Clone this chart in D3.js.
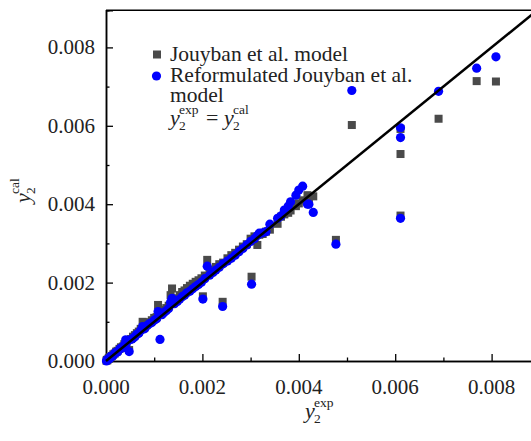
<!DOCTYPE html>
<html>
<head>
<meta charset="utf-8">
<script src="https://cdn.jsdelivr.net/npm/d3@7"></script>
</head>
<body style="margin:0;background:#fff">
<svg id="fig" width="531" height="441"></svg>
<script>
// experimental solubility and the two model predictions
var xExp = [
  0.00001, 0.00002, 0.00003, 0.00005, 0.00007, 0.00009, 0.00012, 0.00015, 0.00018, 0.00021,
  0.00024, 0.00028, 0.00031, 0.00035, 0.00038, 0.00042, 0.00048, 0.00041, 0.00052, 0.00056,
  0.00060, 0.00064, 0.00068, 0.00072, 0.00076, 0.00080, 0.00085, 0.00090, 0.00095, 0.00100,
  0.00108, 0.00112, 0.00105, 0.00116, 0.00120, 0.00125, 0.00130, 0.00137, 0.00134, 0.00142,
  0.00148, 0.00153, 0.00158, 0.00163, 0.00168, 0.00174, 0.00180, 0.00186, 0.00192, 0.00198,
  0.00201, 0.00210, 0.00205, 0.00215, 0.00222, 0.00228, 0.00235, 0.00242, 0.00243, 0.00252,
  0.00260, 0.00268, 0.00276, 0.00284, 0.00292, 0.00302, 0.00300, 0.00308, 0.00314, 0.00318,
  0.00325, 0.00332, 0.00340, 0.00356, 0.00363, 0.00370, 0.00378, 0.00383, 0.00394, 0.00400,
  0.00408, 0.00418, 0.00421, 0.00430, 0.00477, 0.00510, 0.00611, 0.00611, 0.00611, 0.00690,
  0.00769, 0.00809
];
var yJouyban = [
  0.00001, 0.00003, 0.00002, 0.00006, 0.00008, 0.00010, 0.00013, 0.00017, 0.00019, 0.00024,
  0.00026, 0.00031, 0.00035, 0.00037, 0.00043, 0.00046, 0.00028, 0.00050, 0.00056, 0.00062,
  0.00066, 0.00071, 0.00075, 0.00082, 0.00100, 0.00086, 0.00093, 0.00099, 0.00104, 0.00110,
  0.00143, 0.00118, 0.00112, 0.00125, 0.00130, 0.00135, 0.00141, 0.00185, 0.00168, 0.00152,
  0.00160, 0.00168, 0.00176, 0.00180, 0.00186, 0.00192, 0.00197, 0.00202, 0.00206, 0.00211,
  0.00165, 0.00258, 0.00218, 0.00226, 0.00233, 0.00240, 0.00247, 0.00151, 0.00251, 0.00262,
  0.00270, 0.00276, 0.00284, 0.00292, 0.00298, 0.00215, 0.00312, 0.00318, 0.00296, 0.00322,
  0.00324, 0.00330, 0.00335, 0.00350, 0.00368, 0.00374, 0.00378, 0.00384, 0.00395, 0.00402,
  0.00410, 0.00423, 0.00414, 0.00420, 0.00309, 0.00602, 0.00592, 0.00528, 0.00371, 0.00618,
  0.00714, 0.00713
];
var yReform = [
  0.00000, 0.00002, 0.00004, 0.00004, 0.00006, 0.00011, 0.00011, 0.00014, 0.00020, 0.00022,
  0.00023, 0.00030, 0.00033, 0.00034, 0.00041, 0.00044, 0.00024, 0.00054, 0.00055, 0.00058,
  0.00062, 0.00068, 0.00071, 0.00078, 0.00088, 0.00082, 0.00090, 0.00095, 0.00098, 0.00104,
  0.00126, 0.00055, 0.00108, 0.00118, 0.00123, 0.00128, 0.00134, 0.00160, 0.00150, 0.00146,
  0.00152, 0.00158, 0.00164, 0.00168, 0.00174, 0.00178, 0.00184, 0.00190, 0.00195, 0.00201,
  0.00158, 0.00242, 0.00210, 0.00219, 0.00226, 0.00232, 0.00239, 0.00139, 0.00248, 0.00255,
  0.00262, 0.00270, 0.00279, 0.00287, 0.00296, 0.00196, 0.00305, 0.00312, 0.00320, 0.00326,
  0.00327, 0.00330, 0.00349, 0.00364, 0.00370, 0.00385, 0.00395, 0.00406, 0.00423, 0.00436,
  0.00446, 0.00400, 0.00400, 0.00379, 0.00298, 0.00690, 0.00595, 0.00570, 0.00364, 0.00688,
  0.00747, 0.00776
];
var majorTicks = [0, 0.002, 0.004, 0.006, 0.008];
var minorTicks = [0.001, 0.003, 0.005, 0.007];
var legendLabels = ["Jouyban et al. model", "Reformulated Jouyban et al.", "model"];

var W = 531, H = 441;
var margin = { top: 10, left: 106, bottom: 80 };
var xMax = 0.0089, yMax = 0.00895;
var FONT = "'Liberation Serif', 'Times New Roman', 'DejaVu Serif', serif";

var svg = d3.select("#fig");

var x = d3.scaleLinear().domain([0, xMax]).range([margin.left, margin.left + xMax * 48200]);
var y = d3.scaleLinear().domain([0, yMax]).range([H - margin.bottom, H - margin.bottom - yMax * 39200]);

var fmt = d3.format(".3f");

function txt(x0, y0, size, s) {
  return svg.append("text")
    .attr("x", x0).attr("y", y0)
    .attr("font-size", size)
    .style("font-family", FONT)
    .attr("fill", "#222")
    .text(s);
}

// frame (top + right)
svg.append("line")
  .attr("x1", x(0)).attr("x2", x(xMax))
  .attr("y1", y(yMax)).attr("y2", y(yMax))
  .attr("stroke", "#000").attr("stroke-width", 1.5);
svg.append("line")
  .attr("x1", x(xMax)).attr("x2", x(xMax))
  .attr("y1", y(yMax)).attr("y2", y(0))
  .attr("stroke", "#000").attr("stroke-width", 1.5);

// axes with inward ticks, labels drawn separately
svg.append("g")
  .attr("transform", "translate(0," + y(0) + ")")
  .call(d3.axisBottom(x).tickValues(majorTicks).tickSize(-7).tickFormat(""));
svg.append("g")
  .attr("transform", "translate(0," + y(0) + ")")
  .call(d3.axisBottom(x).tickValues(minorTicks).tickSize(-3.5).tickFormat(""));
svg.append("g")
  .attr("transform", "translate(" + x(0) + ",0)")
  .call(d3.axisLeft(y).tickValues(majorTicks).tickSize(-7).tickFormat(""));
svg.append("g")
  .attr("transform", "translate(" + x(0) + ",0)")
  .call(d3.axisLeft(y).tickValues(minorTicks).tickSize(-3.5).tickFormat(""));

svg.selectAll(".domain").attr("stroke", "#000").attr("stroke-width", 1.5);
svg.selectAll(".tick line").attr("stroke", "#000").attr("stroke-width", 1.3);
svg.selectAll(".tick text").remove();

majorTicks.forEach(function (v) {
  txt(x(v), y(0) + 33, 21, fmt(v)).attr("text-anchor", "middle");
  txt(x(0) - 11, y(v) + 7, 21, fmt(v)).attr("text-anchor", "end");
});

var plot = svg.append("g");
svg.append("clipPath").attr("id", "clip")
  .append("rect")
  .attr("x", x(0) - 6).attr("y", y(yMax))
  .attr("width", x(xMax) - x(0) + 6).attr("height", y(0) - y(yMax) + 6);
plot.attr("clip-path", "url(#clip)");

var idx = d3.range(xExp.length);

plot.selectAll(".sq")
  .data(idx)
  .enter()
  .append("rect")
  .attr("class", "sq")
  .attr("x", function (i) { return x(xExp[i]) - 4; })
  .attr("y", function (i) { return y(yJouyban[i]) - 4; })
  .attr("width", 8)
  .attr("height", 8)
  .attr("fill", "#4a4a4a");

plot.selectAll(".dot")
  .data(idx)
  .enter()
  .append("circle")
  .attr("class", "dot")
  .attr("cx", function (i) { return x(xExp[i]); })
  .attr("cy", function (i) { return y(yReform[i]); })
  .attr("r", 4.6)
  .attr("fill", "#0000ff");

// y = x reference line
plot.append("line")
  .attr("x1", x(0)).attr("y1", y(0))
  .attr("x2", x(xMax)).attr("y2", y(xMax))
  .attr("stroke", "#000")
  .attr("stroke-width", 2.5);

// legend
svg.append("rect")
  .attr("x", 153).attr("y", 50.5).attr("width", 8).attr("height", 8)
  .attr("fill", "#4a4a4a");
svg.append("circle")
  .attr("cx", 156.5).attr("cy", 76).attr("r", 4.6)
  .attr("fill", "#0000ff");
legendLabels.forEach(function (d, i) {
  txt(170, 61 + i * 20.5, 21.5, d);
});

// y with subscript 2 and a superscript stacked above it
function symbol(x0, y0, sup, rot) {
  var tr = rot ? "rotate(-90," + x0 + "," + y0 + ")" : null;
  txt(x0, y0, 22, "y").attr("font-style", "italic").attr("transform", tr);
  txt(x0 + 9, y0 + 5, 13.5, "2").attr("transform", tr);
  txt(x0 + 9, y0 - 11, 13.5, sup).attr("transform", tr);
}

symbol(170, 125, "exp");
txt(206, 125, 22, "=");
symbol(224, 125, "cal");

// axis titles
symbol(305, 418, "exp");
symbol(30, 203, "cal", true);
</script>
</body>
</html>
